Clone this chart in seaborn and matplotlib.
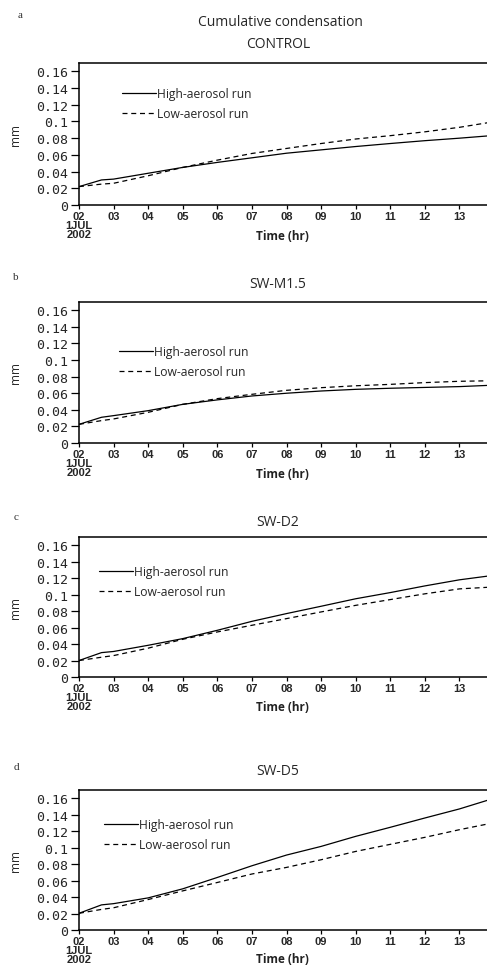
import matplotlib
matplotlib.use('Agg')
import matplotlib.pyplot as plt
import seaborn as sns
import numpy as np
import pandas as pd

# hours (UTC) since 1 JUL 2002 00Z
hours = [2, 2.65, 3, 4, 5, 6, 7, 8, 9, 10, 11, 12, 13, 13.85]

panel_names = ['CONTROL', 'SW-M1.5', 'SW-D2', 'SW-D5']
panel_letters = ['a', 'b', 'c', 'd']

control_high = [0.022, 0.030, 0.031, 0.038, 0.045, 0.051, 0.0565, 0.062, 0.066, 0.070, 0.0736, 0.077, 0.080, 0.0828]
control_low = [0.022, 0.025, 0.026, 0.035, 0.045, 0.0537, 0.0617, 0.0677, 0.0736, 0.079, 0.083, 0.0876, 0.093, 0.0987]

m15_high = [0.0225, 0.031, 0.033, 0.039, 0.0466, 0.052, 0.0567, 0.060, 0.0627, 0.0647, 0.066, 0.067, 0.068, 0.0695]
m15_low = [0.0225, 0.027, 0.029, 0.037, 0.0466, 0.0535, 0.0587, 0.0635, 0.0667, 0.069, 0.0707, 0.0728, 0.0744, 0.075]

d2_high = [0.020, 0.0296, 0.031, 0.0385, 0.0466, 0.0567, 0.0676, 0.077, 0.0859, 0.095, 0.1025, 0.1106, 0.118, 0.1227]
d2_low = [0.020, 0.024, 0.026, 0.035, 0.0458, 0.0547, 0.0628, 0.0709, 0.079, 0.087, 0.094, 0.101, 0.107, 0.109]

d5_high = [0.0203, 0.0305, 0.032, 0.039, 0.050, 0.0638, 0.078, 0.091, 0.1015, 0.1137, 0.1247, 0.136, 0.147, 0.158]
d5_low = [0.0203, 0.025, 0.027, 0.037, 0.0475, 0.0577, 0.068, 0.076, 0.0853, 0.0954, 0.104, 0.1125, 0.1218, 0.129]

high_runs = [control_high, m15_high, d2_high, d5_high]
low_runs = [control_low, m15_low, d2_low, d5_low]

xtick_vals = list(range(2, 14))
xtick_labels = ['02\n1JUL\n2002'] + ['%02d' % h for h in range(3, 14)]
ytick_vals = [0, 0.02, 0.04, 0.06, 0.08, 0.1, 0.12, 0.14, 0.16]
ytick_labels = ['0', '0.02', '0.04', '0.06', '0.08', '0.1', '0.12', '0.14', '0.16']

sns.set_theme(style='ticks')
plt.rcParams['font.family'] = ['Open Sans', 'DejaVu Sans']

W, H = 487, 970
fig = plt.figure(figsize=(W / 100, H / 100), dpi=100)

# pixel layout: (axes top, axes bottom, title y, letter y, xlabel y)
layout = [(64, 206, 45, 15, 237),
          (303, 444, 285, 278, 475),
          (538, 678, 523, 517, 708),
          (791, 931, 772, 768, 960)]
legend_pos = [(119, 93), (116, 351), (96, 571), (101, 824)]

ax_left = 79
ax_width = 415

for i in range(4):
    top, bot, ty, ly, xly = layout[i]
    ax = fig.add_axes([ax_left / W, 1 - bot / H, ax_width / W, (bot - top) / H])
    df = pd.DataFrame({'hour': hours * 2,
                       'mm': high_runs[i] + low_runs[i],
                       'run': ['High-aerosol run'] * len(hours) + ['Low-aerosol run'] * len(hours)})
    sns.lineplot(data=df[df.run == 'High-aerosol run'], x='hour', y='mm', ax=ax,
                 color='black', lw=0.9, label='High-aerosol run')
    sns.lineplot(data=df[df.run == 'Low-aerosol run'], x='hour', y='mm', ax=ax,
                 color='black', lw=0.9, linestyle=(0, (4, 3)), label='Low-aerosol run')
    ax.set_xlim(2, 14)
    ax.set_ylim(0, 0.17)
    ax.set_xticks(xtick_vals)
    ax.set_xticklabels(xtick_labels, fontsize=8, fontweight='bold',
                       family=['Liberation Sans', 'DejaVu Sans'], linespacing=0.85, va='top')
    ax.set_yticks(ytick_vals)
    ax.set_yticklabels(ytick_labels, fontsize=9.5, family=['DejaVu Sans Mono'])
    ax.tick_params(axis='y', length=6, width=0.9, pad=1.5, color='black')
    ax.tick_params(axis='x', length=3, width=0.9, pad=1.5, color='black')
    ax.set_xlabel('')
    ax.set_ylabel('')
    for s in ax.spines.values():
        s.set_linewidth(1.1)
        s.set_color('black')
    lx, lyy = legend_pos[i]
    ax.legend(loc='upper left', frameon=False, fontsize=8.7, handlelength=2.8,
              handletextpad=0.15, labelspacing=0.6, borderaxespad=0,
              bbox_to_anchor=((lx - ax_left - 2) / ax_width, (bot - (lyy - 10)) / (bot - top)))
    fig.text(16 / W, 1 - ((top + bot) / 2) / H, 'mm', rotation=90, fontsize=8.5,
             ha='center', va='center')
    fig.text(282 / W, 1 - xly / H, 'Time (hr)', fontsize=8.5, fontweight='bold',
             ha='center', va='center', color='#222222')
    fig.text(278 / W, 1 - ty / H, panel_names[i], fontsize=10, ha='center', va='center')
    fig.text((20 if i == 0 else 16) / W, 1 - ly / H, panel_letters[i], fontsize=8,
             family=['Liberation Serif', 'DejaVu Serif'], ha='center', va='center', color='#333333')

fig.text(280 / W, 1 - 22 / H, 'Cumulative condensation', fontsize=10, ha='center', va='center')

fig.savefig('out.png', dpi=100, facecolor='white')
